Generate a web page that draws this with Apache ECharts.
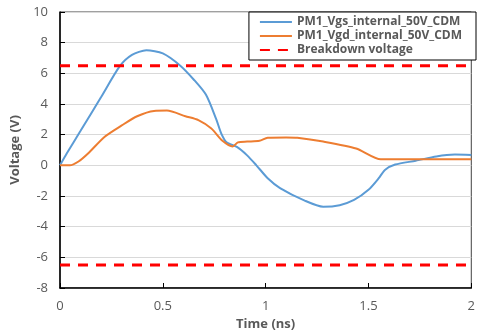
<!DOCTYPE html>
<html>
<head>
<meta charset="utf-8">
<script src="https://cdn.jsdelivr.net/npm/echarts@6/dist/echarts.min.js"></script>
<style>
  html, body { margin: 0; padding: 0; background: #fff; }
  #chart { width: 478px; height: 336px; }
</style>
</head>
<body>
<div id="chart"></div>
<script>
// values (time in ns, voltage in V)
const vgsTime = [0, 0.034, 0.1, 0.2, 0.29, 0.35, 0.42, 0.5, 0.585, 0.65, 0.71, 0.76, 0.785, 0.81, 0.86, 0.91, 0.955, 1.01, 1.07, 1.19, 1.28, 1.36, 1.43, 1.5, 1.55, 1.58, 1.63, 1.73, 1.83, 1.92, 2.0];
const vgsVolt = [0, 0.8, 2.25, 4.45, 6.45, 7.2, 7.5, 7.3, 6.5, 5.6, 4.6, 3.0, 2.05, 1.5, 1.2, 0.65, 0, -0.84, -1.48, -2.3, -2.7, -2.6, -2.26, -1.6, -0.84, -0.3, 0.05, 0.3, 0.58, 0.7, 0.68];

const vgdTime = [0, 0.048, 0.09, 0.135, 0.216, 0.3, 0.375, 0.457, 0.52, 0.61, 0.673, 0.736, 0.79, 0.84, 0.865, 0.91, 0.97, 1.01, 1.1, 1.154, 1.28, 1.44, 1.56, 1.7, 2.0];
const vgdVolt = [0, 0, 0.25, 0.75, 1.85, 2.6, 3.2, 3.55, 3.57, 3.2, 2.95, 2.4, 1.6, 1.23, 1.5, 1.55, 1.6, 1.8, 1.82, 1.8, 1.55, 1.1, 0.4, 0.4, 0.4];

const breakdownTime = [0, 2];
const breakdownHigh = [6.5, 6.5];
const breakdownLow = [-6.5, -6.5];

const seriesNames = ["PM1_Vgs_internal_50V_CDM", "PM1_Vgd_internal_50V_CDM", "Breakdown voltage"];

const zip = (xs, ys) => xs.map((x, i) => [x, ys[i]]);

const textGray = "#595959";
const font = "Open Sans";

const chart = echarts.init(document.getElementById("chart"));

const dashed = {
  type: "line",
  name: seriesNames[2],
  symbol: "none",
  lineStyle: { color: "#FF0000", width: 3, type: [10, 8] },
  itemStyle: { color: "#FF0000" },
  animation: false,
  z: 3,
};

chart.setOption({
  animation: false,
  grid: {
    left: 60, right: 2, top: 12, bottom: 45,
    show: true, borderColor: "#404040", borderWidth: 1,
  },
  legend: {
    data: seriesNames,
    orient: "vertical",
    right: 2, top: 12,
    padding: [4, 14, 4, 10],
    itemGap: 2,
    itemWidth: 32, itemHeight: 14,
    itemStyle: { opacity: 0 },
    backgroundColor: "#fff",
    borderColor: "#000", borderWidth: 1,
    textStyle: { color: textGray, fontFamily: font, fontSize: 12, fontWeight: "bold" },
  },
  xAxis: {
    type: "value",
    min: 0, max: 2, interval: 0.5,
    name: "Time (ns)",
    nameLocation: "middle",
    nameGap: 30,
    nameTextStyle: { color: textGray, fontFamily: font, fontSize: 13, fontWeight: "bold" },
    axisLine: { onZero: false, lineStyle: { color: "#000", width: 1.5 } },
    axisTick: { inside: true, length: 5, lineStyle: { color: "#000" } },
    axisLabel: { color: textGray, fontFamily: font, fontSize: 13, margin: 12 },
    splitLine: { show: false },
  },
  yAxis: {
    type: "value",
    min: -8, max: 10, interval: 2,
    name: "Voltage (V)",
    nameLocation: "middle",
    nameGap: 34,
    nameTextStyle: { color: textGray, fontFamily: font, fontSize: 13, fontWeight: "bold" },
    axisLine: { show: true, lineStyle: { color: "#000", width: 1.5 } },
    axisTick: { show: true, inside: true, length: 5, lineStyle: { color: "#000" } },
    axisLabel: { color: textGray, fontFamily: font, fontSize: 13, margin: 12 },
    splitLine: { lineStyle: { color: "#D9D9D9", width: 1 } },
  },
  series: [
    {
      type: "line",
      name: seriesNames[0],
      data: zip(vgsTime, vgsVolt),
      symbol: "none",
      smooth: 0.25,
      lineStyle: { color: "#5B9BD5", width: 2 },
      itemStyle: { color: "#5B9BD5" },
      z: 2,
    },
    {
      type: "line",
      name: seriesNames[1],
      data: zip(vgdTime, vgdVolt),
      symbol: "none",
      smooth: 0.25,
      lineStyle: { color: "#ED7D31", width: 2 },
      itemStyle: { color: "#ED7D31" },
      z: 2,
    },
    Object.assign({}, dashed, { data: zip(breakdownTime, breakdownHigh) }),
    Object.assign({}, dashed, { data: zip(breakdownTime, breakdownLow) }),
  ],
});
</script>
</body>
</html>
